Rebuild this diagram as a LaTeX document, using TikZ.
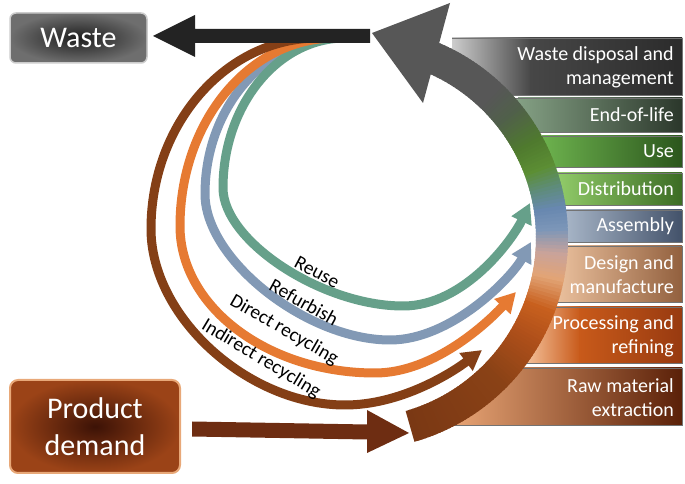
\documentclass[tikz,border=0pt]{standalone}
\usepackage{fontspec}
\setmainfont{Carlito}
\usetikzlibrary{arrows.meta}
\definecolor{g0}{HTML}{7A3814}
\definecolor{g1}{HTML}{8A4216}
\definecolor{g2}{HTML}{B0501A}
\definecolor{g3}{HTML}{C8601E}
\definecolor{g4}{HTML}{E2A476}
\definecolor{g5}{HTML}{C9A39A}
\definecolor{g6}{HTML}{7C96B8}
\definecolor{g7}{HTML}{6888B0}
\definecolor{g8}{HTML}{5E8C7A}
\definecolor{g9}{HTML}{5C8E34}
\definecolor{g10}{HTML}{4F7A2E}
\definecolor{g11}{HTML}{50604A}
\definecolor{g12}{HTML}{575757}
\definecolor{tealA}{HTML}{66A08A}
\definecolor{blueA}{HTML}{8299B5}
\definecolor{orangeA}{HTML}{E67A32}
\definecolor{brownA}{HTML}{843F16}
\definecolor{blackA}{HTML}{232323}
\definecolor{prodA}{HTML}{6E2D12}
\definecolor{wdL}{HTML}{CCCCCC}
\definecolor{wdM}{HTML}{474747}
\definecolor{wdR}{HTML}{2B2B2B}
\definecolor{eolL}{HTML}{84A084}
\definecolor{eolR}{HTML}{2B372B}
\definecolor{useL}{HTML}{6DB24E}
\definecolor{useR}{HTML}{2B561C}
\definecolor{disL}{HTML}{92CC6A}
\definecolor{disR}{HTML}{3C6C24}
\definecolor{asmL}{HTML}{A8B6C8}
\definecolor{asmR}{HTML}{43526A}
\definecolor{desL}{HTML}{EBC19E}
\definecolor{desR}{HTML}{92603E}
\definecolor{proL}{HTML}{F2BC94}
\definecolor{proM}{HTML}{C85A1A}
\definecolor{proR}{HTML}{983A10}
\definecolor{rawL}{HTML}{E9A575}
\definecolor{rawM}{HTML}{8E4218}
\definecolor{rawR}{HTML}{5A2008}
\definecolor{wasteIn}{HTML}{1E1E1E}
\definecolor{wasteOut}{HTML}{6E6E6E}
\definecolor{prodIn}{HTML}{3C1206}
\definecolor{prodOut}{HTML}{9B4317}
\definecolor{prodGlow}{HTML}{E8A878}
\tikzset{
  thinarc/.style={line width=9pt, -{Triangle[length=20pt,width=21pt]}},
  arclabel/.style={font=\fontsize{19.5}{22}\selectfont, text=black, inner sep=0pt},
  stagetext/.style={text=white, font=\fontsize{20}{24}\selectfont, align=right, anchor=east, inner sep=0pt},
  boxline/.style={draw=black!55, line width=0.6pt},
}
\begin{document}
\begin{tikzpicture}[x=1pt,y=1pt]
\useasboundingbox (0,0) rectangle (685,484);

% ---- stage boxes (drawn first, partly hidden) ----
\shade[left color=wdL, right color=wdM] (452,389) rectangle (531,446);
\shade[left color=wdM, right color=wdR] (530,389) rectangle (682,446);
\draw[boxline] (452,446) -- (682,446) -- (682,389) -- (452,389);

\fill[eolL] (452,352) rectangle (519,386);
\shade[left color=eolL, right color=eolR] (518,352) rectangle (682,386);
\draw[boxline] (452,386) -- (682,386) -- (682,352) -- (452,352);

\fill[useL] (452,317) rectangle (543,348);
\shade[left color=useL, right color=useR] (542,317) rectangle (682,348);
\draw[boxline] (452,348) -- (682,348) -- (682,317) -- (452,317);

\fill[disL] (452,279) rectangle (557,311);
\shade[left color=disL, right color=disR] (556,279) rectangle (682,311);
\draw[boxline] (452,311) -- (682,311) -- (682,279) -- (452,279);

\fill[asmL] (452,242) rectangle (565,274);
\shade[left color=asmL, right color=asmR] (564,242) rectangle (682,274);
\draw[boxline] (452,274) -- (682,274) -- (682,242) -- (452,242);

\fill[desL] (452,182) rectangle (557,238);
\shade[left color=desL, right color=desR] (556,182) rectangle (682,238);
\draw[boxline] (452,238) -- (682,238) -- (682,182) -- (452,182);

\fill[proL] (452,121) rectangle (529,177);
\shade[left color=proL, right color=proM] (528,121) rectangle (580,177);
\shade[left color=proM, right color=proR] (579,121) rectangle (682,177);
\draw[boxline] (452,177) -- (682,177) -- (682,121) -- (452,121);

\shade[left color=rawL, middle color=rawM, right color=rawR] (452,59) rectangle (682,116);
\draw[boxline] (452,116) -- (682,116) -- (682,59) -- (452,59);

% ---- white interior ----
\fill[white] (356,246) circle[radius=180];

% ---- big gradient arc ----
\begin{scope}[shift={(356,246)}]
\foreach \a/\b/\ca/\cb in {-74/-45/g0/g1, -45/-30/g1/g2, -30/-21/g2/g3, -21/-12/g3/g4, -12/-5/g4/g5, -5/2/g5/g6, 2/8/g6/g7, 8/14/g7/g8, 14/20/g8/g9, 20/28/g9/g10, 28/38/g10/g11, 38/46/g11/g12, 46/67/g12/g12}{
  \pgfmathtruncatemacro\nn{\b-\a-1}
  \foreach \k in {0,...,\nn}{
    \pgfmathsetmacro\aa{\a+\k}
    \pgfmathsetmacro\bb{\a+\k+1.6}
    \pgfmathtruncatemacro\pp{round(100*\k/(\b-\a))}
    \fill[\cb!\pp!\ca] (\aa:180) arc[start angle=\aa,end angle=\bb,radius=180] -- (\bb:212) arc[start angle=\bb,end angle=\aa,radius=212] -- cycle;
  }
}
\coordinate (headIn) at (67,135);
\coordinate (headOut) at (94,235);
\coordinate (headTip) at (16,205);
\fill[g12] (headIn) -- (headTip) -- (headOut) -- cycle;
\end{scope}

% ---- stage texts ----
\node[stagetext] (s1) at (674,416.5) {Waste disposal and\\management};
\node[stagetext] (s2) at (674,369) {End-of-life};
\node[stagetext] (s3) at (674,332.5) {Use};
\node[stagetext] (s4) at (674,295) {Distribution};
\node[stagetext] (s5) at (674,258) {Assembly};
\node[stagetext] (s6) at (674,209) {Design and\\manufacture};
\node[stagetext] (s7) at (674,148) {Processing and\\refining};
\node[stagetext] (s8) at (674,86.5) {Raw material\\extraction};

% ---- thin loop arrows ----
\draw[thinarc, blueA] (340,446) .. controls (265,446) and (205,376) .. (205,290)
  .. controls (205,224) and (307,144) .. (390,144)
  .. controls (452,144) and (512,207) .. (531,242);
\draw[thinarc, tealA] (345,446) .. controls (278,446) and (223,379) .. (223,296)
  .. controls (223,243) and (322,178) .. (403,178)
  .. controls (465,178) and (513,245) .. (530,281);
\draw[thinarc, orangeA] (335,446) .. controls (249,446) and (180,362) .. (180,258)
  .. controls (180,177) and (268,111) .. (375,111)
  .. controls (435,111) and (489,163) .. (516,192);
\draw[thinarc, brownA] (318,446) .. controls (226,446) and (151,360) .. (151,255)
  .. controls (151,167) and (248,79) .. (345,79)
  .. controls (400,79) and (450,110) .. (482,134);

% ---- loop labels ----
\node[arclabel, rotate=-28] (lReuse) at (317,212) {Reuse};
\node[arclabel, rotate=-29] (lRef) at (304,182) {Refurbish};
\node[arclabel, rotate=-30] (lDir) at (284,154) {Direct recycling};
\node[arclabel, rotate=-31] (lInd) at (261,125) {Indirect recycling};

% ---- Waste box and arrow ----
\node[rounded corners=6pt, minimum width=137pt, minimum height=50pt, inner color=wasteIn, outer color=wasteOut, draw=black!20, line width=1.5pt, text=white, font=\fontsize{30}{36}\selectfont] (waste) at (78.5,446) {Waste};
\coordinate (wTip) at (153,448);
\fill[blackA] (370,455) -- (195,455) -- (195,469) -- (wTip) -- (195,427) -- (195,441) -- (370,441) -- cycle;

% ---- Product demand box and arrow ----
\node[rounded corners=8pt, minimum width=170pt, minimum height=93pt, inner color=prodIn, outer color=prodOut, draw=prodGlow, line width=2pt, text=white, align=center, font=\fontsize{30}{37}\selectfont] (prod) at (95,57.5) {Product\\demand};
\coordinate (pTip) at (409,51);
\fill[prodA] (192,62.5) -- (367,59.5) -- (367,74) -- (pTip) -- (367,31) -- (367,44.5) -- (192,47.5) -- cycle;
\end{tikzpicture}
\end{document}
